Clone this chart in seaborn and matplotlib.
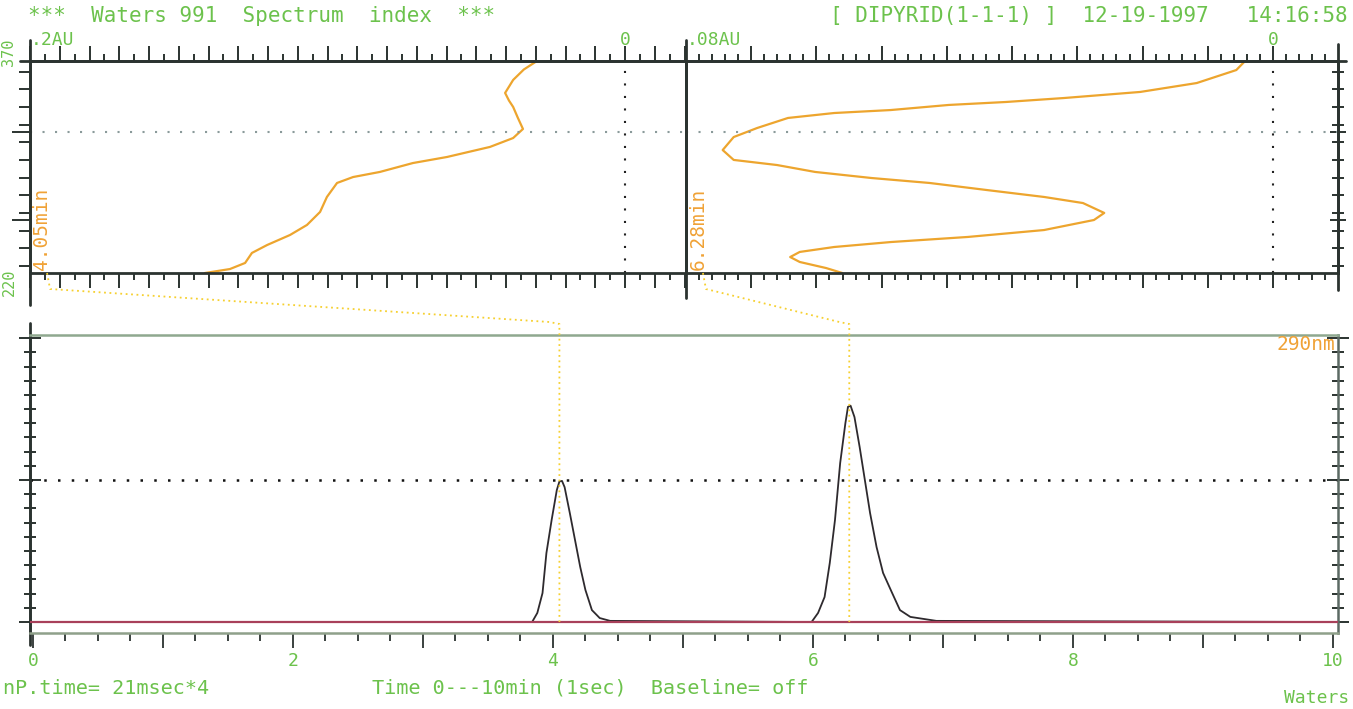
import matplotlib
matplotlib.use("Agg")
import matplotlib.pyplot as plt
from matplotlib.ticker import MultipleLocator, FixedLocator, FuncFormatter
from matplotlib.lines import Line2D
from matplotlib.transforms import IdentityTransform
import seaborn as sns

# ── Data ─────────────────────────────────────────────────────────────────────
# chromatogram at 290nm: time (min) vs absorbance (0.5 = dotted level)
trace_time = [0.0, 3.84, 3.88, 3.92, 3.95, 3.99, 4.03, 4.05, 4.07, 4.09, 4.13,
              4.17, 4.21, 4.25, 4.30, 4.36, 4.44, 5.99, 6.04, 6.09, 6.13, 6.17,
              6.21, 6.25, 6.27, 6.29, 6.32, 6.36, 6.40, 6.44, 6.49, 6.54, 6.61,
              6.67, 6.75, 6.85, 6.95, 10.0]
trace_abs = [0.0, 0.0, 0.032, 0.102, 0.243, 0.359, 0.465, 0.495, 0.497, 0.475,
             0.384, 0.289, 0.194, 0.113, 0.042, 0.014, 0.004, 0.0, 0.032, 0.088,
             0.208, 0.359, 0.56, 0.70, 0.758, 0.762, 0.722, 0.616, 0.50, 0.384,
             0.264, 0.173, 0.102, 0.042, 0.018, 0.011, 0.004, 0.0]
peak_times = [4.05, 6.28]
peak_labels = ["4.05min", "6.28min"]

# spectrum of peak 1 (4.05 min): absorbance (AU) vs wavelength (nm)
spec1_au = [0.0296, 0.0340, 0.0376, 0.0403, 0.0390, 0.0376, 0.0360, 0.0343,
            0.0376, 0.0454, 0.0598, 0.0713, 0.0824, 0.0914, 0.0968, 0.1002,
            0.1025, 0.1069, 0.1126, 0.1203, 0.1254, 0.1277, 0.1328, 0.1412]
spec1_wl = [370, 364.0, 356.6, 347.4, 342.0, 337.5, 329.7, 321.9, 315.5, 309.2,
            302.1, 297.8, 291.5, 287.9, 283.7, 273.8, 263.2, 254.0, 246.9,
            239.8, 234.2, 227.1, 222.8, 220]

# spectrum of peak 2 (6.28 min)
spec2_au = [0.0038, 0.0050, 0.0104, 0.0181, 0.0285, 0.0364, 0.0442, 0.0521,
            0.0598, 0.0661, 0.0703, 0.0735, 0.0750, 0.0735, 0.0676, 0.0624,
            0.0547, 0.0468, 0.0390, 0.0312, 0.0259, 0.0230, 0.0244, 0.0312,
            0.0416, 0.0521, 0.0598, 0.0645, 0.0658, 0.0645, 0.0609, 0.0587]
spec2_wl = [370, 363.6, 354.4, 348.1, 343.8, 341.0, 338.9, 335.3, 333.2, 329.7,
            322.6, 316.2, 307.0, 300.0, 296.4, 291.5, 287.2, 283.7, 278.7,
            273.8, 269.5, 262.5, 257.5, 250.4, 245.5, 241.9, 238.4, 234.9,
            231.3, 227.8, 223.5, 220.0]

# ── Style ────────────────────────────────────────────────────────────────────
sns.set_style("white")
plt.rcParams["font.family"] = ["DejaVu Sans Mono"]
GREEN = "#6cc24c"
ORANGE = "#f0a236"
SPEC = "#eda52e"
YELLOW = "#f6d030"
DARK = "#2b3330"

W, H = 1353, 709


def box(left, top, right, bottom):
    return [left / W, 1 - bottom / H, (right - left) / W, (bottom - top) / H]


fig = plt.figure(figsize=(W / 100, H / 100), dpi=100)
axL = fig.add_axes(box(30, 61, 686, 273))
axR = fig.add_axes(box(686, 61, 1338, 273))
axC = fig.add_axes(box(30, 335, 1338, 633))

# ── Spectrum panels ──────────────────────────────────────────────────────────
sns.lineplot(x=spec1_au, y=spec1_wl, sort=False, estimator=None, ax=axL,
             color=SPEC, lw=1.6)
sns.lineplot(x=spec2_au, y=spec2_wl, sort=False, estimator=None, ax=axR,
             color=SPEC, lw=1.6)

for ax, xmax, xmin, step in [(axL, 0.2, -0.0205, 0.01), (axR, 0.08, -0.00886, 0.08 / 9)]:
    ax.set_xlim(xmax, xmin)
    ax.set_ylim(220, 370)
    ax.xaxis.set_major_locator(MultipleLocator(step))
    ax.xaxis.set_minor_locator(MultipleLocator(step / 5 if ax is axR else step / 2))
    ax.yaxis.set_major_locator(FixedLocator([257.5, 320]))
    ax.yaxis.set_minor_locator(MultipleLocator(12.5))
    ax.tick_params(axis="x", which="both", top=True, bottom=True, labeltop=False,
                   labelbottom=False, direction="out", color=DARK, width=1.4)
    ax.tick_params(axis="x", which="major", length=11)
    ax.tick_params(axis="x", which="minor", length=5)
    ax.axhline(320, color="#8a9a9a", ls=(0, (1, 5)), lw=1.5)
    ax.axvline(0, color="#222222", ls=(0, (1, 5)), lw=1.5)
    for side in ["top", "bottom", "left", "right"]:
        ax.spines[side].set_color(DARK)
        ax.spines[side].set_linewidth(2)
    ax.set_xlabel("")
    ax.set_ylabel("")
    ax.set_facecolor("none")

axL.tick_params(axis="y", which="both", left=True, right=False, labelleft=False,
                direction="out", color=DARK, width=1.4)
axL.tick_params(axis="y", which="major", length=13)
axL.tick_params(axis="y", which="minor", length=8)
axR.tick_params(axis="y", which="both", left=False, right=True, labelleft=False,
                direction="inout", color=DARK, width=1.4)
axR.tick_params(axis="y", which="major", length=12)
axR.tick_params(axis="y", which="minor", length=8)

# axis lines running past the panels
axL.plot([0, 0], [-0.15, 1.1], transform=axL.transAxes, clip_on=False, color=DARK, lw=2)
axL.plot([-0.015, 1], [1, 1], transform=axL.transAxes, clip_on=False, color=DARK, lw=2)
axR.plot([0, 0], [-0.12, 1.1], transform=axR.transAxes, clip_on=False, color=DARK, lw=2)
axR.plot([1, 1], [-0.08, 1.08], transform=axR.transAxes, clip_on=False, color=DARK, lw=2)
axR.plot([0, 1.012], [1, 1], transform=axR.transAxes, clip_on=False, color=DARK, lw=2)

# ── Chromatogram ─────────────────────────────────────────────────────────────
sns.lineplot(x=trace_time, y=trace_abs, sort=False, estimator=None, ax=axC,
             color="#2e2a2e", lw=1.3, zorder=3)
axC.axhline(0, color="#a8405a", lw=1.6, zorder=4)
axC.axhline(0.5, color="#111111", ls=(0, (1, 4.5)), lw=1.8)
axC.set_xlim(-0.023, 10.04)
axC.set_ylim(-0.0387, 1.011)
axC.xaxis.set_major_locator(MultipleLocator(1))
axC.xaxis.set_minor_locator(MultipleLocator(0.25))
axC.xaxis.set_major_formatter(FuncFormatter(lambda v, p: f"{v:.0f}" if round(v) % 2 == 0 else ""))
axC.yaxis.set_major_locator(MultipleLocator(0.5))
axC.yaxis.set_minor_locator(MultipleLocator(0.05))
axC.tick_params(axis="x", which="both", bottom=True, top=False, direction="out",
                color=DARK, width=1.3, labelcolor=GREEN, labelsize=13, pad=3)
axC.tick_params(axis="x", which="major", length=11)
axC.tick_params(axis="x", which="minor", length=6)
axC.tick_params(axis="y", which="both", left=True, right=True, labelleft=False,
                direction="inout", color=DARK, width=1.4)
axC.tick_params(axis="y", which="major", length=16)
axC.tick_params(axis="y", which="minor", length=9)
axC.spines["top"].set_color("#8fa88f")
axC.spines["bottom"].set_color("#8fa08a")
axC.spines["left"].set_color(DARK)
axC.spines["right"].set_color("#5c6a64")
for side in ["top", "bottom", "left", "right"]:
    axC.spines[side].set_linewidth(1.8)
axC.plot([0, 0], [-0.04, 1.04], transform=axC.transAxes, clip_on=False, color=DARK, lw=2)
axC.set_xlabel("")
axC.set_ylabel("")
axC.set_facecolor("none")

# ── Connectors from spectrum panels to their peaks ───────────────────────────
top_y = axC.get_ylim()[1]
for ax_spec, t in zip([axL, axR], peak_times):
    sx, sy = ax_spec.transAxes.transform((0.026, 0))
    tx, ty = axC.transData.transform((t, top_y))
    bx, by = axC.transData.transform((t, 0))
    xs = [sx, sx + 3, tx - 10, tx, bx]
    ys = [sy, sy - 16, ty + 13, ty + 11, by]
    fig.lines.append(Line2D(xs, ys, transform=IdentityTransform(), color=YELLOW,
                            ls=(0, (1, 2)), lw=1.3, zorder=5))

# ── Texts ────────────────────────────────────────────────────────────────────
fig.text(28 / W, 1 - 16 / H, "***  Waters 991  Spectrum  index  ***",
         color=GREEN, fontsize=15, va="center", ha="left")
fig.text(1348 / W, 1 - 16 / H, "[ DIPYRID(1-1-1) ]  12-19-1997   14:16:58",
         color=GREEN, fontsize=15, va="center", ha="right")
fig.text(31 / W, 1 - 40 / H, ".2AU", color=GREEN, fontsize=13, va="center", ha="left")
fig.text(625 / W, 1 - 40 / H, "0", color=GREEN, fontsize=13, va="center", ha="center")
fig.text(687 / W, 1 - 40 / H, ".08AU", color=GREEN, fontsize=13, va="center", ha="left")
fig.text(1273 / W, 1 - 40 / H, "0", color=GREEN, fontsize=13, va="center", ha="center")
fig.text(9 / W, 1 - 52 / H, "370", color=GREEN, fontsize=11, rotation=90,
         va="center", ha="center")
fig.text(9 / W, 1 - 282 / H, "220", color=GREEN, fontsize=11, rotation=90,
         va="center", ha="center")
fig.text(42 / W, 1 - 270 / H, peak_labels[0], color=ORANGE, fontsize=14,
         rotation=90, va="bottom", ha="center")
fig.text(698 / W, 1 - 270 / H, peak_labels[1], color=ORANGE, fontsize=14,
         rotation=90, va="bottom", ha="center")
fig.text(1335 / W, 1 - 344 / H, "290nm", color=ORANGE, fontsize=14,
         va="center", ha="right")
fig.text(3 / W, 1 - 688 / H, "nP.time= 21msec*4", color=GREEN, fontsize=14.5,
         va="center", ha="left")
fig.text(372 / W, 1 - 688 / H, "Time 0---10min (1sec)  Baseline= off",
         color=GREEN, fontsize=14.5, va="center", ha="left")
fig.text(1349 / W, 1 - 698 / H, "Waters", color=GREEN, fontsize=13,
         va="center", ha="right")

fig.savefig("out.png", dpi=100)
